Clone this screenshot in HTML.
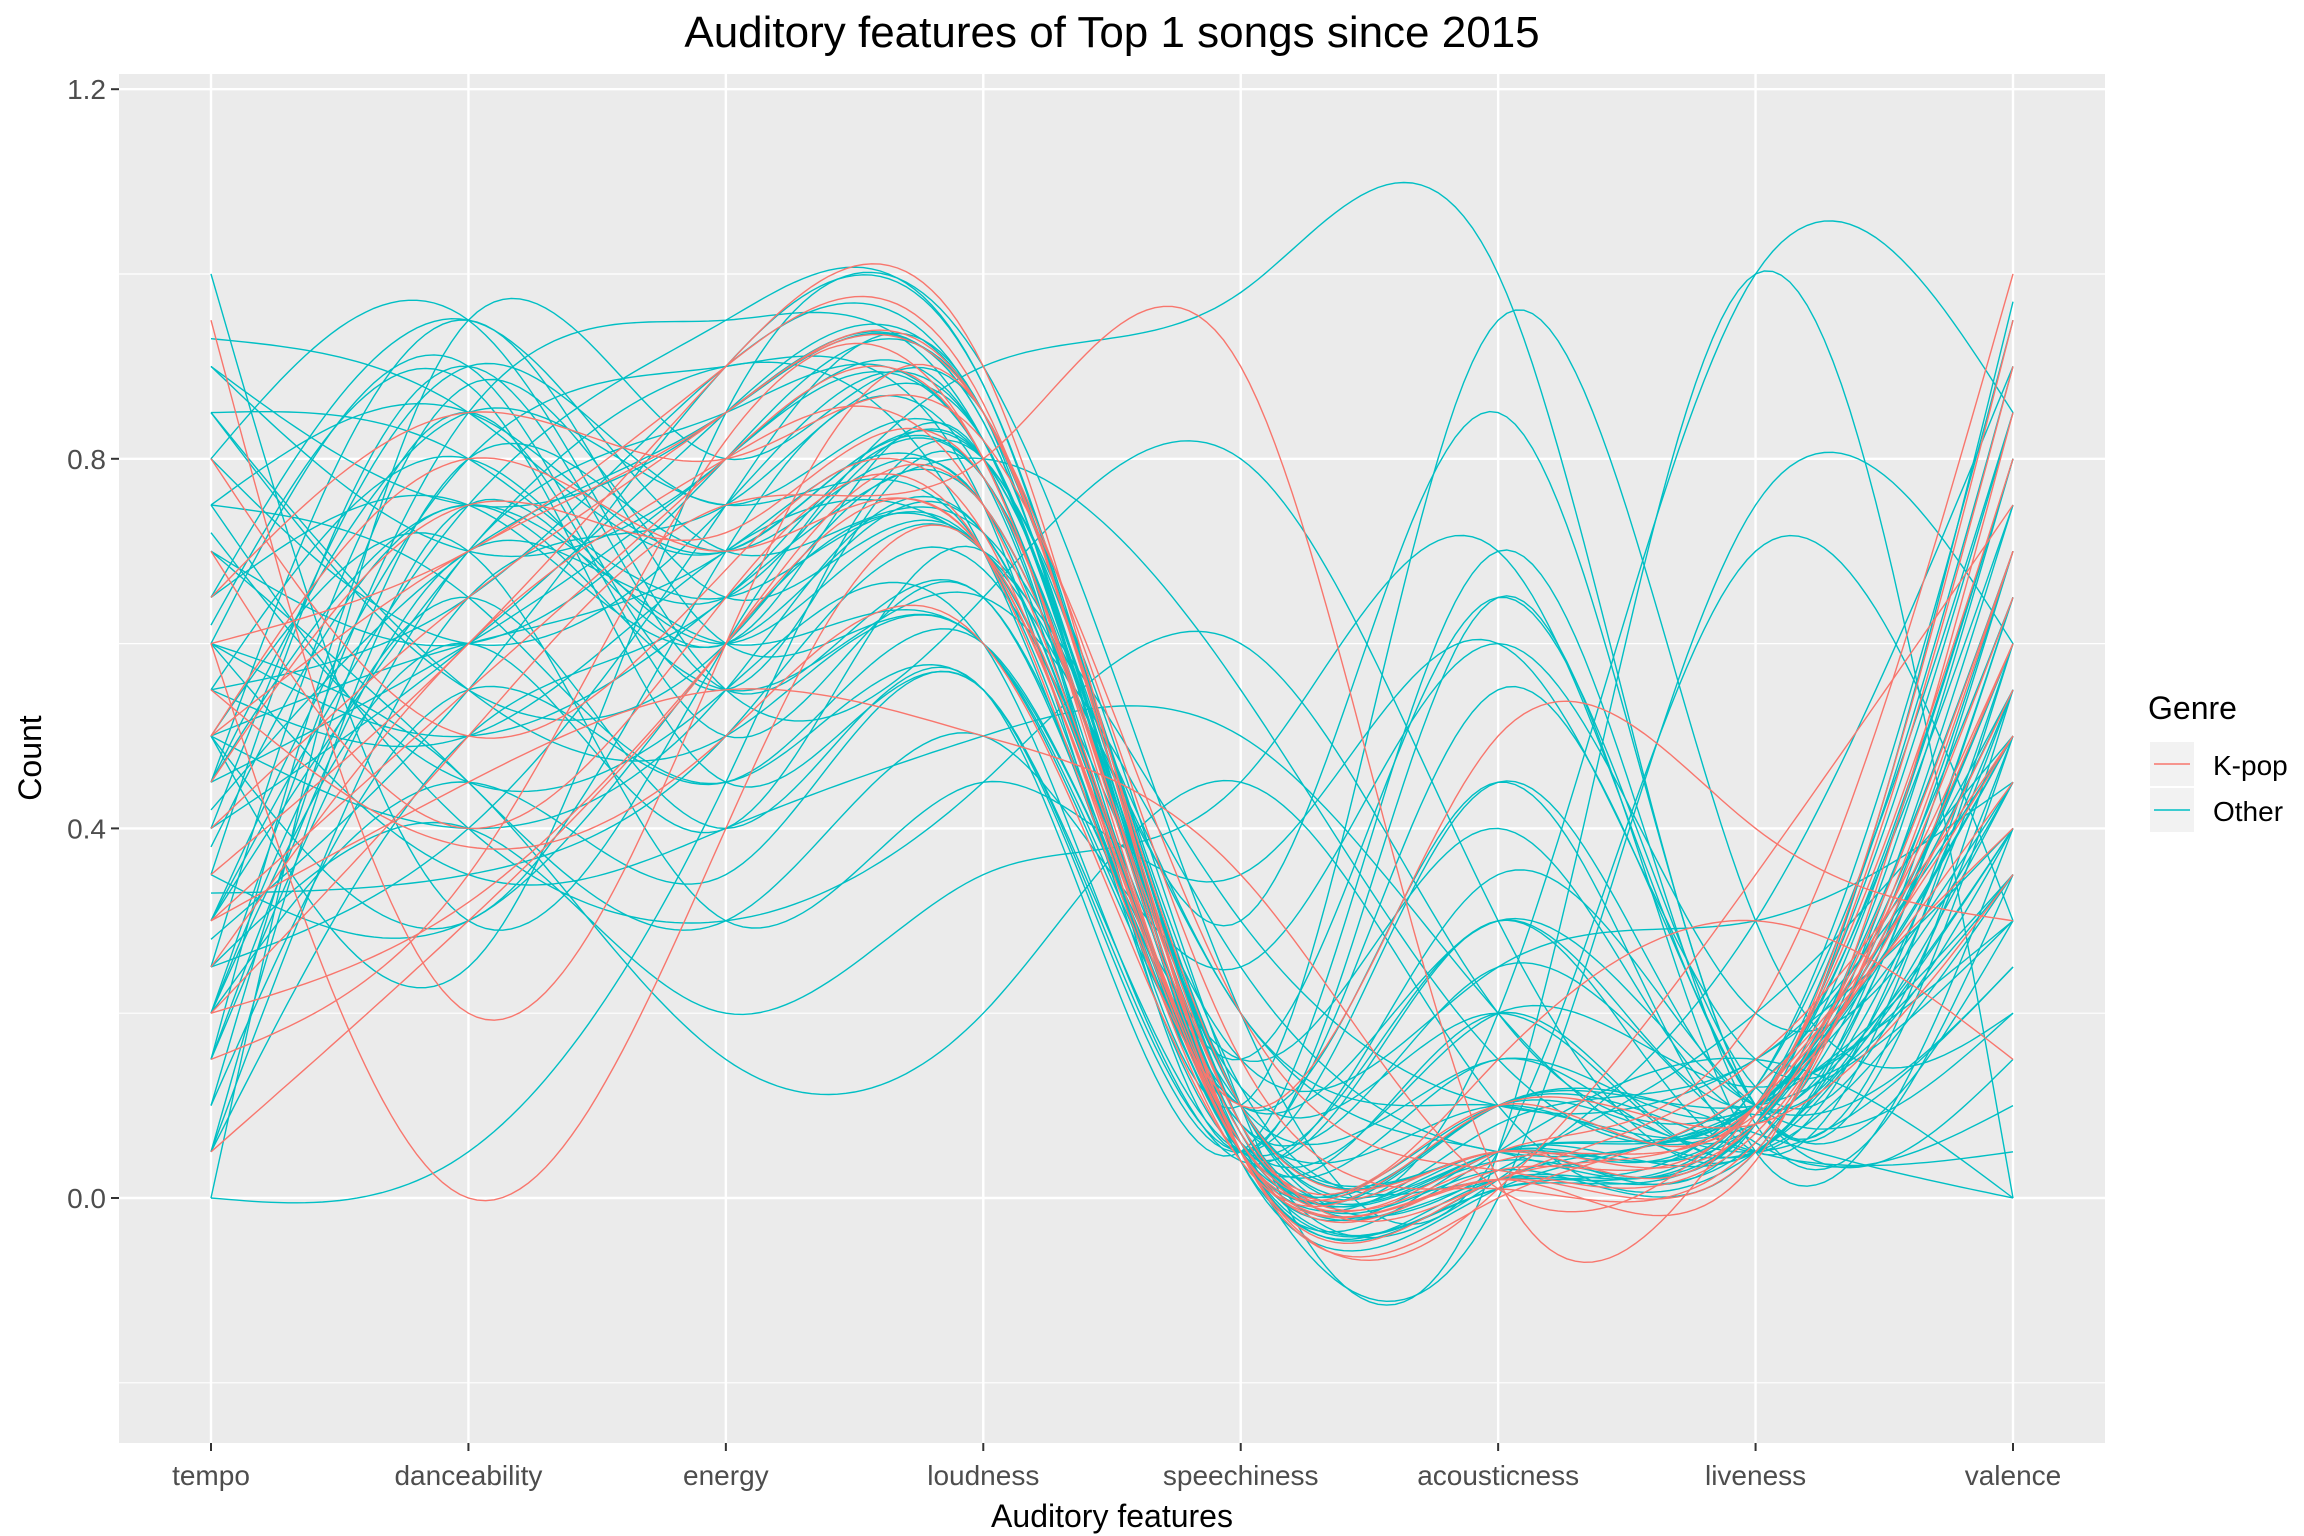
<!DOCTYPE html>
<html><head><meta charset="utf-8"><style>
html,body{margin:0;padding:0;background:#fff;}
svg{display:block;font-family:"Liberation Sans",Arial,sans-serif;}
</style></head><body>
<svg id="chart" width="2304" height="1536" viewBox="0 0 2304 1536" xmlns="http://www.w3.org/2000/svg">
<rect width="2304" height="1536" fill="#fff"/>
<text x="1112" y="47" font-size="44" text-anchor="middle" fill="#000">Auditory features of Top 1 songs since 2015</text>
<rect x="119" y="74" width="1986" height="1369" fill="#ebebeb"/>
<g id="grid"></g>
<g id="lines"></g>
<g id="axes"></g>
<text x="1112" y="1527" font-size="32" text-anchor="middle" fill="#000">Auditory features</text>
<text transform="translate(41,758) rotate(-90)" font-size="32" text-anchor="middle" fill="#000">Count</text>
<g>
<text x="2148" y="719" font-size="32" fill="#000">Genre</text>
<rect x="2150" y="742" width="44" height="44" fill="#f2f2f2"/>
<line x1="2154" y1="764" x2="2190" y2="764" stroke="#F8766D" stroke-width="1.5"/>
<text x="2213" y="775" font-size="28" fill="#000">K-pop</text>
<rect x="2150" y="788" width="44" height="44" fill="#f2f2f2"/>
<line x1="2154" y1="810" x2="2190" y2="810" stroke="#00BFC4" stroke-width="1.5"/>
<text x="2213" y="821" font-size="28" fill="#000">Other</text>
</g>
</svg>
<script>
const categories=["tempo","danceability","energy","loudness","speechiness","acousticness","liveness","valence"];
const yTicks=[0.0,0.4,0.8,1.2];
const yMinor=[-0.2,0.2,0.6,1.0];
const kpopSeries=[
[0.95,0.2,0.6,0.85,0.05,0.02,0.1,0.6],
[0.5,0.7,0.85,0.85,0.1,0.05,0.08,0.7],
[0.3,0.55,0.8,0.8,0.05,0.1,0.1,0.9],
[0.05,0.3,0.6,0.75,0.08,0.02,0.15,0.5],
[0.6,0.0,0.4,0.7,0.05,0.03,0.1,0.8],
[0.4,0.65,0.85,0.85,0.15,0.01,0.06,0.65],
[0.2,0.5,0.75,0.8,0.9,0.02,0.1,0.4],
[0.5,0.8,0.7,0.7,0.06,0.05,0.09,0.95],
[0.35,0.6,0.9,0.9,0.05,0.0,0.12,0.5],
[0.7,0.4,0.65,0.7,0.1,0.5,0.4,0.3],
[0.45,0.75,0.72,0.78,0.07,0.15,0.3,0.15],
[0.55,0.38,0.5,0.6,0.04,0.02,0.05,0.7],
[0.25,0.6,0.8,0.75,0.06,0.05,0.2,1.0],
[0.65,0.85,0.8,0.82,0.2,0.03,0.07,0.6],
[0.3,0.45,0.55,0.5,0.35,0.01,0.1,0.45],
[0.8,0.5,0.68,0.72,0.04,0.1,0.08,0.35],
[0.15,0.35,0.82,0.8,0.05,0.01,0.35,0.75],
[0.6,0.7,0.9,0.86,0.08,0.04,0.09,0.55],
[0.2,0.32,0.6,0.7,0.05,0.02,0.04,0.85]
];
const otherSeries=[
[1.0,0.3,0.6,0.9,0.98,1.0,0.1,0.5],
[0.93,0.85,0.7,0.8,0.1,0.05,1.0,0.0],
[0.0,0.95,0.8,0.85,0.05,0.02,0.1,0.9],
[0.05,0.75,0.6,0.8,0.1,0.95,0.3,0.2],
[0.6,0.9,0.55,0.78,0.05,0.65,0.05,0.4],
[0.2,0.6,0.4,0.7,0.3,0.85,0.1,0.55],
[0.5,0.25,0.85,0.9,0.2,0.05,0.7,0.3],
[0.85,0.55,0.5,0.6,0.08,0.1,0.1,0.8],
[0.3,0.8,0.9,0.75,0.05,0.3,0.05,0.6],
[0.7,0.45,0.3,0.5,0.25,0.6,0.2,0.45],
[0.15,0.7,0.65,0.8,0.07,0.05,0.08,0.97],
[0.45,0.85,0.75,0.7,0.06,0.2,0.12,0.35],
[0.25,0.4,0.2,0.35,0.45,0.7,0.1,0.3],
[0.55,0.65,0.9,0.85,0.12,0.02,0.1,0.75],
[0.35,0.9,0.55,0.65,0.05,0.1,0.05,0.25],
[0.9,0.7,0.8,0.82,0.04,0.01,0.12,0.55],
[0.1,0.55,0.45,0.6,0.15,0.4,0.09,0.65],
[0.65,0.75,0.6,0.72,0.08,0.25,0.06,0.1],
[0.4,0.6,0.85,0.85,0.1,0.03,0.2,0.5],
[0.75,0.85,0.7,0.78,0.05,0.05,0.1,0.85],
[0.2,0.45,0.35,0.55,0.05,0.55,0.1,0.15],
[0.55,0.5,0.7,0.7,0.3,0.1,0.15,0.4],
[0.3,0.75,0.95,0.88,0.06,0.01,0.08,0.7],
[0.6,0.35,0.4,0.5,0.5,0.2,0.05,0.35],
[0.85,0.8,0.65,0.7,0.1,0.15,0.1,0.6],
[0.05,0.65,0.75,0.82,0.04,0.05,0.05,0.45],
[0.45,0.95,0.6,0.6,0.1,0.3,0.1,0.25],
[0.7,0.6,0.8,0.85,0.08,0.02,0.3,0.9],
[0.25,0.85,0.5,0.65,0.15,0.65,0.12,0.5],
[0.5,0.4,0.55,0.72,0.05,0.1,0.05,0.05],
[0.15,0.7,0.85,0.8,0.07,0.04,0.08,0.8],
[0.62,0.88,0.45,0.55,0.05,0.45,0.1,0.55],
[0.35,0.3,0.6,0.7,0.2,0.05,0.08,0.65],
[0.8,0.6,0.75,0.82,0.06,0.1,0.1,0.3],
[0.1,0.8,0.7,0.75,0.05,0.2,0.05,0.7],
[0.5,0.7,0.3,0.45,0.35,0.6,0.15,0.4],
[0.28,0.55,0.9,0.88,0.08,0.02,0.06,0.6],
[0.72,0.45,0.55,0.6,0.04,0.35,0.1,0.2],
[0.4,0.9,0.75,0.8,0.1,0.05,0.12,0.95],
[0.6,0.5,0.65,0.8,0.55,0.15,0.1,0.5],
[0.2,0.65,0.4,0.55,0.05,0.7,0.08,0.35],
[0.9,0.75,0.85,0.84,0.07,0.03,0.05,0.75],
[0.33,0.35,0.5,0.68,0.15,0.25,0.3,0.45],
[0.55,0.8,0.6,0.7,0.06,0.1,0.07,0.0],
[0.05,0.5,0.65,0.78,0.08,0.05,0.1,0.55],
[0.45,0.6,0.8,0.8,0.05,0.01,0.12,0.85],
[0.65,0.95,0.7,0.72,0.2,0.1,0.08,0.4],
[0.25,0.4,0.75,0.85,0.1,0.45,0.05,0.6],
[0.75,0.65,0.45,0.55,0.05,0.3,0.1,0.7],
[0.38,0.75,0.55,0.65,0.25,0.05,0.1,0.3],
[0.5,0.3,0.7,0.78,0.06,0.15,0.08,0.8],
[0.15,0.88,0.65,0.7,0.05,0.08,0.15,0.5],
[0.85,0.55,0.6,0.75,0.12,0.2,0.05,0.65],
[0.42,0.7,0.85,0.84,0.05,0.02,0.1,0.45],
[0.0,0.05,0.45,0.8,0.1,0.05,0.1,0.5],
[0.6,0.45,0.15,0.2,0.45,0.1,0.05,0.4],
[0.3,0.7,0.9,0.7,0.05,0.05,0.15,0.0],
[0.5,0.6,0.7,0.75,0.1,0.2,1.0,0.85],
[0.45,0.75,0.6,0.6,0.05,0.0,0.75,0.6],
[0.8,0.95,0.55,0.65,0.8,0.3,0.05,0.55],
[0.2,0.85,0.95,0.82,0.1,0.05,0.08,0.6],
[0.75,0.4,0.3,0.45,0.6,0.2,0.1,0.35]
];
const NS="http://www.w3.org/2000/svg";
const X0=211,X1=2013,Y0=1198,PX=924;
function xs(i){return X0+i*(X1-X0)/(categories.length-1);}
function ys(v){return Y0-v*PX;}
const grid=document.getElementById('grid'),axes=document.getElementById('axes'),lines=document.getElementById('lines');
function mk(tag,attrs,parent){const e=document.createElementNS(NS,tag);for(const k in attrs)e.setAttribute(k,attrs[k]);parent.appendChild(e);return e;}
yMinor.forEach(v=>{
const l=mk('line',{x1:119,x2:2105,y1:ys(v),y2:ys(v),stroke:'#fff','stroke-width':1.2},grid);


});
yTicks.forEach(v=>{
const l=mk('line',{x1:119,x2:2105,y1:ys(v),y2:ys(v),stroke:'#fff','stroke-width':2.4},grid);


const t=mk('line',{x1:111,x2:119,y1:ys(v),y2:ys(v),stroke:'#333','stroke-width':2},axes);


const tx=mk('text',{x:106,y:ys(v)+10,'font-size':28,'text-anchor':'end',fill:'#4d4d4d'},axes);
tx.textContent=v.toFixed(1);


});
categories.forEach((c,i)=>{
const l=mk('line',{x1:xs(i),x2:xs(i),y1:74,y2:1443,stroke:'#fff','stroke-width':2.4},grid);


const t=mk('line',{x1:xs(i),x2:xs(i),y1:1443,y2:1451,stroke:'#333','stroke-width':2},axes);


const tx=mk('text',{x:xs(i),y:1485,'font-size':28,'text-anchor':'middle',fill:'#4d4d4d'},axes);
tx.textContent=c;


});
function spline(vals){
const n=vals.length,M=new Array(n).fill(0);
const a=[],b=[],c=[],d=[];
for(let i=1;i<n-1;i++){a.push(1);b.push(4);c.push(1);d.push(6*(vals[i+1]-2*vals[i]+vals[i-1]));}
const m=b.length;
for(let i=1;i<m;i++){const w=a[i]/b[i-1];b[i]-=w*c[i-1];d[i]-=w*d[i-1];}
const s=new Array(m);s[m-1]=d[m-1]/b[m-1];
for(let i=m-2;i>=0;i--)s[i]=(d[i]-c[i]*s[i+1])/b[i];
for(let i=0;i<m;i++)M[i+1]=s[i];
let p='';const steps=30;
for(let i=0;i<n-1;i++){for(let k=(i?1:0);k<=steps;k++){const t=k/steps;
const v=M[i]*(1-t)**3/6+M[i+1]*t**3/6+(vals[i]-M[i]/6)*(1-t)+(vals[i+1]-M[i+1]/6)*t;
p+=(p?'L':'M')+xs(i+t).toFixed(1)+','+ys(v).toFixed(1);}}
return p;}
function draw(series,color,name){
series.forEach(r=>{
const e=mk('path',{d:spline(r),fill:'none',stroke:color,'stroke-width':1.4},lines);


});}
draw(otherSeries,'#00BFC4','song-line-other');
draw(kpopSeries,'#F8766D','song-line-kpop');
</script>
</body></html>
